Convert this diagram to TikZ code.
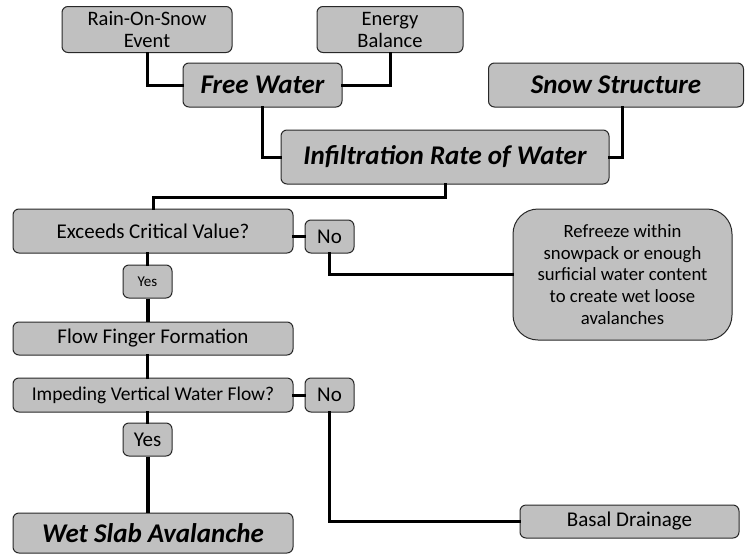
\documentclass[tikz,border=0pt]{standalone}
\usepackage{fontspec}
\setmainfont{Carlito}
\usetikzlibrary{calc}
\definecolor{boxgray}{RGB}{192,192,192}
\definecolor{edgegray}{RGB}{40,40,40}
\tikzset{
  box/.style={draw=edgegray, line width=1pt, fill=boxgray, rounded corners=6pt,
    inner sep=0pt, align=center, font=\fontsize{21}{22}\selectfont},
  bigbox/.style={box, font=\fontsize{27}{30}\selectfont\bfseries\itshape},
  conn/.style={line width=3pt, line cap=rect},
  thick conn/.style={line width=4pt},
}
\begin{document}
\begin{tikzpicture}[x=1pt,y=-1pt]
\useasboundingbox (0,0) rectangle (745,555);
% nodes
\node[box, minimum width=170pt, minimum height=46pt, font=\fontsize{20.5}{22}\selectfont] (ros) at (147,29.5) {Rain-On-Snow\\Event};
\node[box, minimum width=146pt, minimum height=46pt, font=\fontsize{20.5}{22}\selectfont] (eb) at (390,29.5) {Energy\\Balance};
\node[bigbox, minimum width=159pt, minimum height=44pt] (fw) at (262.5,85) {Free Water};
\node[bigbox, minimum width=255pt, minimum height=44pt] (ss) at (616,85) {Snow Structure};
\node[bigbox, minimum width=328pt, minimum height=54pt] (inf) at (445,157) {Infiltration Rate of Water};
\node[box, minimum width=280pt, minimum height=44pt] (ex) at (153,231) {Exceeds Critical Value?};
\node[box, minimum width=49pt, minimum height=33pt] (no1) at (329.5,236.5) {No};
\node[box, minimum width=219pt, minimum height=131pt, rounded corners=25pt, font=\fontsize{18.7}{21.7}\selectfont] (ref) at (622.5,274.5) {Refreeze within\\snowpack or enough\\surficial water content\\to create wet loose\\avalanches};
\node[box, minimum width=49pt, minimum height=33pt, font=\fontsize{15}{17}\selectfont] (yes1) at (147.5,281.5) {Yes};
\node[box, minimum width=280pt, minimum height=33pt] (ff) at (153,338.5) {Flow Finger Formation};
\node[box, minimum width=280pt, minimum height=34pt, font=\fontsize{19.5}{22}\selectfont] (imp) at (153,395) {Impeding Vertical Water Flow?};
\node[box, minimum width=49pt, minimum height=34pt] (no2) at (329.5,395) {No};
\node[box, minimum width=49pt, minimum height=33pt] (yes2) at (147.5,439.5) {Yes};
\node[bigbox, minimum width=280pt, minimum height=40pt] (ws) at (153,533) {Wet Slab Avalanche};
\node[box, minimum width=219pt, minimum height=33pt] (bd) at (629.5,521.5) {Basal Drainage};
\coordinate (j1) at (153,197);
% connectors
\draw[conn] (ros.south) |- (fw.west);
\draw[conn] (eb.south) |- (fw.east);
\draw[conn] (fw.south) |- (inf.west);
\draw[conn] ($(ss.south)+(6,0)$) |- (inf.east);
\draw[conn] (inf.south) |- (j1) -- (ex.north);
\draw[conn] (ex.east |- no1.west) -- (no1.west);
\draw[conn] (no1.south) |- (ref.west);
\draw[conn] (yes1.north |- ex.south) -- (yes1.north);
\draw[thick conn] (yes1.south) -- (yes1.south |- ff.north);
\draw[conn] (yes1.south |- ff.south) -- (yes1.south |- imp.north);
\draw[conn] (imp.east) -- (no2.west);
\draw[conn] (yes2.north |- imp.south) -- (yes2.north);
\draw[thick conn] (yes2.south) -- (yes2.south |- ws.north);
\draw[conn] (no2.south) |- (bd.west);
\end{tikzpicture}
\end{document}
